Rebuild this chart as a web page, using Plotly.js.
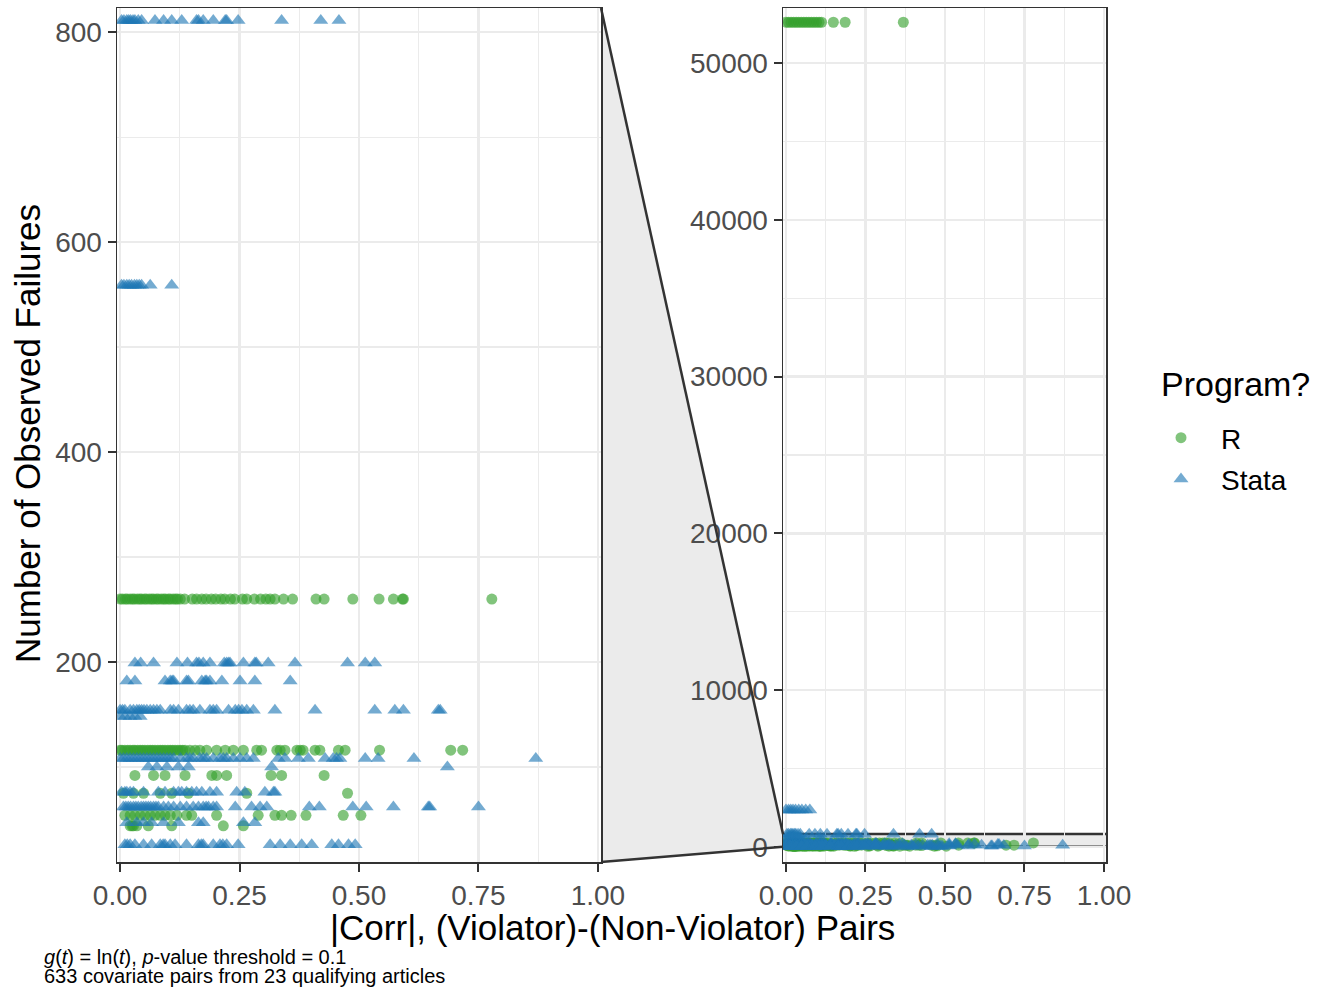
<!DOCTYPE html>
<html>
<head>
<meta charset="utf-8">
<script src="https://cdn.plot.ly/plotly-3.0.1.min.js"></script>
<style>html,body{margin:0;padding:0;background:#fff;}#chart{width:1325px;height:991px;}</style>
</head>
<body>
<div id="chart"></div>
<script>
// ---------------- DATA ----------------
// Number of observed failures for each group of covariate pairs (R program)
const rFailures = [52600, 260, 116, 92, 75, 54, 44];
// |Corr| values for each failure level (R)
const rCorr = [
  [0.000, 0.008, 0.016, 0.024, 0.032, 0.040, 0.048, 0.056, 0.064, 0.072, 0.080, 0.088, 0.096, 0.104, 0.112, 0.149, 0.186, 0.369],
  [0.000, 0.005, 0.011, 0.015, 0.021, 0.026, 0.030, 0.036, 0.041, 0.045, 0.051, 0.055, 0.061, 0.066, 0.070, 0.076, 0.080, 0.086, 0.091, 0.095, 0.101, 0.105, 0.111, 0.116, 0.120, 0.126, 0.135, 0.151, 0.160, 0.171, 0.180, 0.191, 0.200, 0.211, 0.219, 0.231, 0.240, 0.256, 0.265, 0.281, 0.294, 0.305, 0.314, 0.324, 0.342, 0.361, 0.410, 0.427, 0.487, 0.542, 0.572, 0.591, 0.593, 0.778],
  [0.000, 0.004, 0.010, 0.016, 0.021, 0.027, 0.031, 0.037, 0.042, 0.047, 0.052, 0.058, 0.063, 0.068, 0.073, 0.079, 0.084, 0.089, 0.094, 0.100, 0.105, 0.110, 0.115, 0.121, 0.126, 0.131, 0.136, 0.146, 0.157, 0.167, 0.181, 0.202, 0.220, 0.237, 0.258, 0.286, 0.296, 0.328, 0.335, 0.345, 0.370, 0.377, 0.383, 0.408, 0.418, 0.457, 0.471, 0.543, 0.692, 0.717],
  [0.031, 0.070, 0.094, 0.136, 0.192, 0.202, 0.223, 0.316, 0.338, 0.427],
  [0.007, 0.028, 0.049, 0.084, 0.108, 0.143, 0.265, 0.476],
  [0.010, 0.021, 0.031, 0.042, 0.052, 0.063, 0.073, 0.084, 0.094, 0.105, 0.119, 0.139, 0.150, 0.202, 0.289, 0.324, 0.338, 0.358, 0.389, 0.467, 0.504],
  [0.021, 0.025, 0.028, 0.035, 0.059, 0.108, 0.216, 0.258]
];
// Number of observed failures for each group (Stata program)
const sFailures = [2360, 811, 559, 199, 182, 154, 148, 108, 100, 76, 62, 47, 26];
const sCorr = [
  [0.000, 0.008, 0.015, 0.022, 0.030, 0.040, 0.050, 0.062, 0.075],
  [0.003, 0.008, 0.014, 0.018, 0.022, 0.027, 0.031, 0.038, 0.045, 0.073, 0.091, 0.108, 0.129, 0.160, 0.164, 0.174, 0.195, 0.220, 0.223, 0.247, 0.338, 0.420, 0.458],
  [0.003, 0.008, 0.014, 0.019, 0.024, 0.030, 0.035, 0.040, 0.045, 0.063, 0.108],
  [0.031, 0.043, 0.070, 0.119, 0.141, 0.160, 0.165, 0.174, 0.188, 0.218, 0.223, 0.227, 0.230, 0.258, 0.282, 0.285, 0.310, 0.366, 0.476, 0.513, 0.533],
  [0.014, 0.031, 0.094, 0.105, 0.109, 0.112, 0.139, 0.143, 0.171, 0.178, 0.181, 0.188, 0.213, 0.251, 0.282, 0.356],
  [0.000, 0.005, 0.010, 0.021, 0.028, 0.035, 0.040, 0.045, 0.050, 0.056, 0.063, 0.070, 0.077, 0.084, 0.105, 0.112, 0.122, 0.139, 0.146, 0.153, 0.167, 0.188, 0.195, 0.202, 0.227, 0.241, 0.248, 0.255, 0.265, 0.279, 0.324, 0.408, 0.533, 0.575, 0.593, 0.666, 0.670],
  [0.000, 0.010, 0.021, 0.031, 0.042],
  [0.000, 0.007, 0.014, 0.021, 0.028, 0.035, 0.042, 0.049, 0.056, 0.063, 0.070, 0.077, 0.084, 0.091, 0.098, 0.105, 0.112, 0.126, 0.139, 0.146, 0.153, 0.167, 0.174, 0.181, 0.195, 0.209, 0.216, 0.223, 0.237, 0.251, 0.265, 0.279, 0.331, 0.345, 0.373, 0.394, 0.429, 0.446, 0.453, 0.460, 0.513, 0.540, 0.615, 0.870],
  [0.059, 0.077, 0.098, 0.122, 0.143, 0.317, 0.685],
  [0.003, 0.010, 0.014, 0.021, 0.028, 0.049, 0.080, 0.094, 0.112, 0.122, 0.129, 0.139, 0.150, 0.160, 0.171, 0.188, 0.202, 0.244, 0.261, 0.303, 0.321, 0.324],
  [0.007, 0.012, 0.017, 0.022, 0.028, 0.033, 0.038, 0.044, 0.049, 0.054, 0.059, 0.064, 0.070, 0.075, 0.080, 0.091, 0.101, 0.112, 0.126, 0.139, 0.153, 0.164, 0.174, 0.180, 0.185, 0.195, 0.202, 0.241, 0.275, 0.293, 0.307, 0.396, 0.417, 0.487, 0.515, 0.572, 0.645, 0.648, 0.750],
  [0.014, 0.035, 0.049, 0.066, 0.091, 0.122, 0.164, 0.174, 0.258, 0.282],
  [0.010, 0.015, 0.021, 0.031, 0.049, 0.066, 0.084, 0.090, 0.094, 0.105, 0.115, 0.139, 0.164, 0.170, 0.174, 0.195, 0.209, 0.215, 0.223, 0.247, 0.314, 0.335, 0.356, 0.380, 0.401, 0.443, 0.457, 0.478, 0.492]
];
const programs = ['R', 'Stata'];
const xTickVals = [0, 0.25, 0.5, 0.75, 1];
const xTickText = ['0.00', '0.25', '0.50', '0.75', '1.00'];
const yZoomTicks = [200, 400, 600, 800];
const yFullTicks = [0, 10000, 20000, 30000, 40000, 50000];
const yFullTickText = ['0', '10000', '20000', '30000', '40000', '50000'];

// ---------------- LAYOUT CONSTANTS ----------------
const W = 1325, H = 991;
const M = {l: 117, r: 219, t: 8, b: 129};
const PW = W - M.l - M.r, PH = H - M.t - M.b;
const domL = [0, (601 - M.l) / PW];
const domR = [(783 - M.l) / PW, 1];
const xRangeL = [-0.0065, 1.0065];
const xRangeR = [-0.0094, 1.0063];
const yZoom = [9.5, 823];
const yFull = [-957, 53508];
const GREEN = 'rgba(51,160,44,0.62)';
const BLUE = 'rgba(31,120,180,0.62)';
const GRID = '#EBEBEB';
const BORDER = '#333333';
const FONT = 'Liberation Sans, Arial, Helvetica, sans-serif';

function flatten(levels, corr) {
  const xs = [], ys = [];
  levels.forEach((lv, i) => corr[i].forEach(v => { xs.push(v); ys.push(lv); }));
  return {xs, ys};
}
const R = flatten(rFailures, rCorr);
const S = flatten(sFailures, sCorr);

function mk(d, name, color, symbol, size, xa, ya, show) {
  return {
    type: 'scatter', mode: 'markers', x: d.xs, y: d.ys, name: name,
    xaxis: xa, yaxis: ya, showlegend: show, legendgroup: name,
    marker: {color: color, symbol: symbol, size: size, line: {width: 0}},
    hoverinfo: 'skip'
  };
}
const traces = [
  mk(R, programs[0], GREEN, 'circle', 11, 'x', 'y', true),
  mk(S, programs[1], BLUE, 'triangle-up', 13, 'x', 'y', true),
  mk(R, programs[0], GREEN, 'circle', 11, 'x2', 'y2', false),
  mk(S, programs[1], BLUE, 'triangle-up', 13, 'x2', 'y2', false)
];

function axisBase() {
  return {
    showline: true, mirror: true, linecolor: BORDER, linewidth: 1.5,
    ticks: 'outside', ticklen: 8, tickwidth: 2, tickcolor: BORDER,
    showgrid: true, gridcolor: GRID, gridwidth: 2.4, zeroline: false,
    tickfont: {family: FONT, size: 28, color: '#4D4D4D'},
    fixedrange: true
  };
}
const xL = Object.assign(axisBase(), {domain: domL, range: xRangeL, anchor: 'y',
  tickmode: 'array', tickvals: xTickVals, ticktext: xTickText,
  minor: {dtick: 0.25, tick0: 0.125, showgrid: true, gridcolor: GRID, gridwidth: 1.2, ticks: ''}});
const yL = Object.assign(axisBase(), {domain: [0, 1], range: yZoom, anchor: 'x',
  tickmode: 'array', tickvals: yZoomTicks,
  minor: {dtick: 200, tick0: 100, showgrid: true, gridcolor: GRID, gridwidth: 1.2, ticks: ''}});
const xR = Object.assign(axisBase(), {domain: domR, range: xRangeR, anchor: 'y2',
  tickmode: 'array', tickvals: xTickVals, ticktext: xTickText,
  minor: {dtick: 0.25, tick0: 0.125, showgrid: true, gridcolor: GRID, gridwidth: 1.2, ticks: ''}});
const yR = Object.assign(axisBase(), {domain: [0, 1], range: yFull, anchor: 'x2',
  tickmode: 'array', tickvals: yFullTicks, ticktext: yFullTickText,
  minor: {dtick: 10000, tick0: 5000, showgrid: true, gridcolor: GRID, gridwidth: 1.2, ticks: ''}});

// zoom band in paper coordinates of right panel
const bandTop = (yZoom[1] - yFull[0]) / (yFull[1] - yFull[0]);
const bandBot = (yZoom[0] - yFull[0]) / (yFull[1] - yFull[0]);

const shapes = [
  {type: 'path', xref: 'paper', yref: 'paper', layer: 'below',
   path: `M ${domL[1]},1 L ${domR[0]},${bandTop} L ${domR[0]},${bandBot} L ${domL[1]},0 Z`,
   fillcolor: GRID, line: {width: 0}},
  {type: 'rect', xref: 'x2 domain', yref: 'y2', x0: 0, x1: 1, y0: yZoom[0], y1: yZoom[1], layer: 'below',
   fillcolor: GRID, line: {width: 0}},
  {type: 'line', xref: 'x2 domain', yref: 'y2', x0: 0, x1: 1, y0: yZoom[1], y1: yZoom[1], line: {color: BORDER, width: 2.5}, layer: 'below'},
  {type: 'line', xref: 'x2 domain', yref: 'y2', x0: 0, x1: 1, y0: yZoom[0], y1: yZoom[0], line: {color: BORDER, width: 2.5}, layer: 'below'},
  {type: 'line', xref: 'paper', yref: 'paper', x0: domL[1], y0: 1, x1: domR[0], y1: bandTop, line: {color: BORDER, width: 2.5}},
  {type: 'line', xref: 'paper', yref: 'paper', x0: domL[1], y0: 0, x1: domR[0], y1: bandBot, line: {color: BORDER, width: 2.5}}
];

const px2x = px => (px - M.l) / PW;
const px2y = py => (H - M.b - py) / PH;

const annotations = [
  {text: '|Corr|, (Violator)-(Non-Violator) Pairs', xref: 'paper', yref: 'paper',
   x: px2x(612), y: px2y(927), xanchor: 'center', yanchor: 'middle', showarrow: false,
   font: {family: FONT, size: 35, color: '#000'}},
  {text: 'Number of Observed Failures', xref: 'paper', yref: 'paper', textangle: -90,
   x: px2x(27), y: px2y(434), xanchor: 'center', yanchor: 'middle', showarrow: false,
   font: {family: FONT, size: 35, color: '#000'}},
  {text: 'Program?', xref: 'paper', yref: 'paper',
   x: px2x(1159), y: px2y(384), xanchor: 'left', yanchor: 'middle', showarrow: false,
   font: {family: FONT, size: 34, color: '#000'}},
  {text: '<i>g</i>(<i>t</i>) = ln(<i>t</i>), <i>p</i>-value threshold = 0.1', xref: 'paper', yref: 'paper',
   x: px2x(42), y: px2y(957), xanchor: 'left', yanchor: 'middle', showarrow: false,
   font: {family: FONT, size: 20, color: '#000'}},
  {text: '633 covariate pairs from 23 qualifying articles', xref: 'paper', yref: 'paper',
   x: px2x(42), y: px2y(976), xanchor: 'left', yanchor: 'middle', showarrow: false,
   font: {family: FONT, size: 20, color: '#000'}}
];

const layout = {
  width: W, height: H, margin: M,
  paper_bgcolor: '#fff', plot_bgcolor: 'rgba(0,0,0,0)',
  font: {family: FONT, color: '#000'},
  showlegend: true,
  legend: {x: px2x(1141), xanchor: 'left', y: px2y(413), yanchor: 'top',
    bgcolor: 'rgba(0,0,0,0)', borderwidth: 0, itemwidth: 70,
    font: {family: FONT, size: 28, color: '#000'}, tracegroupgap: 2},
  xaxis: xL, yaxis: yL, xaxis2: xR, yaxis2: yR,
  shapes: shapes, annotations: annotations, hovermode: false
};

Plotly.newPlot('chart', traces, layout, {displayModeBar: false, staticPlot: true});
</script>
</body>
</html>
